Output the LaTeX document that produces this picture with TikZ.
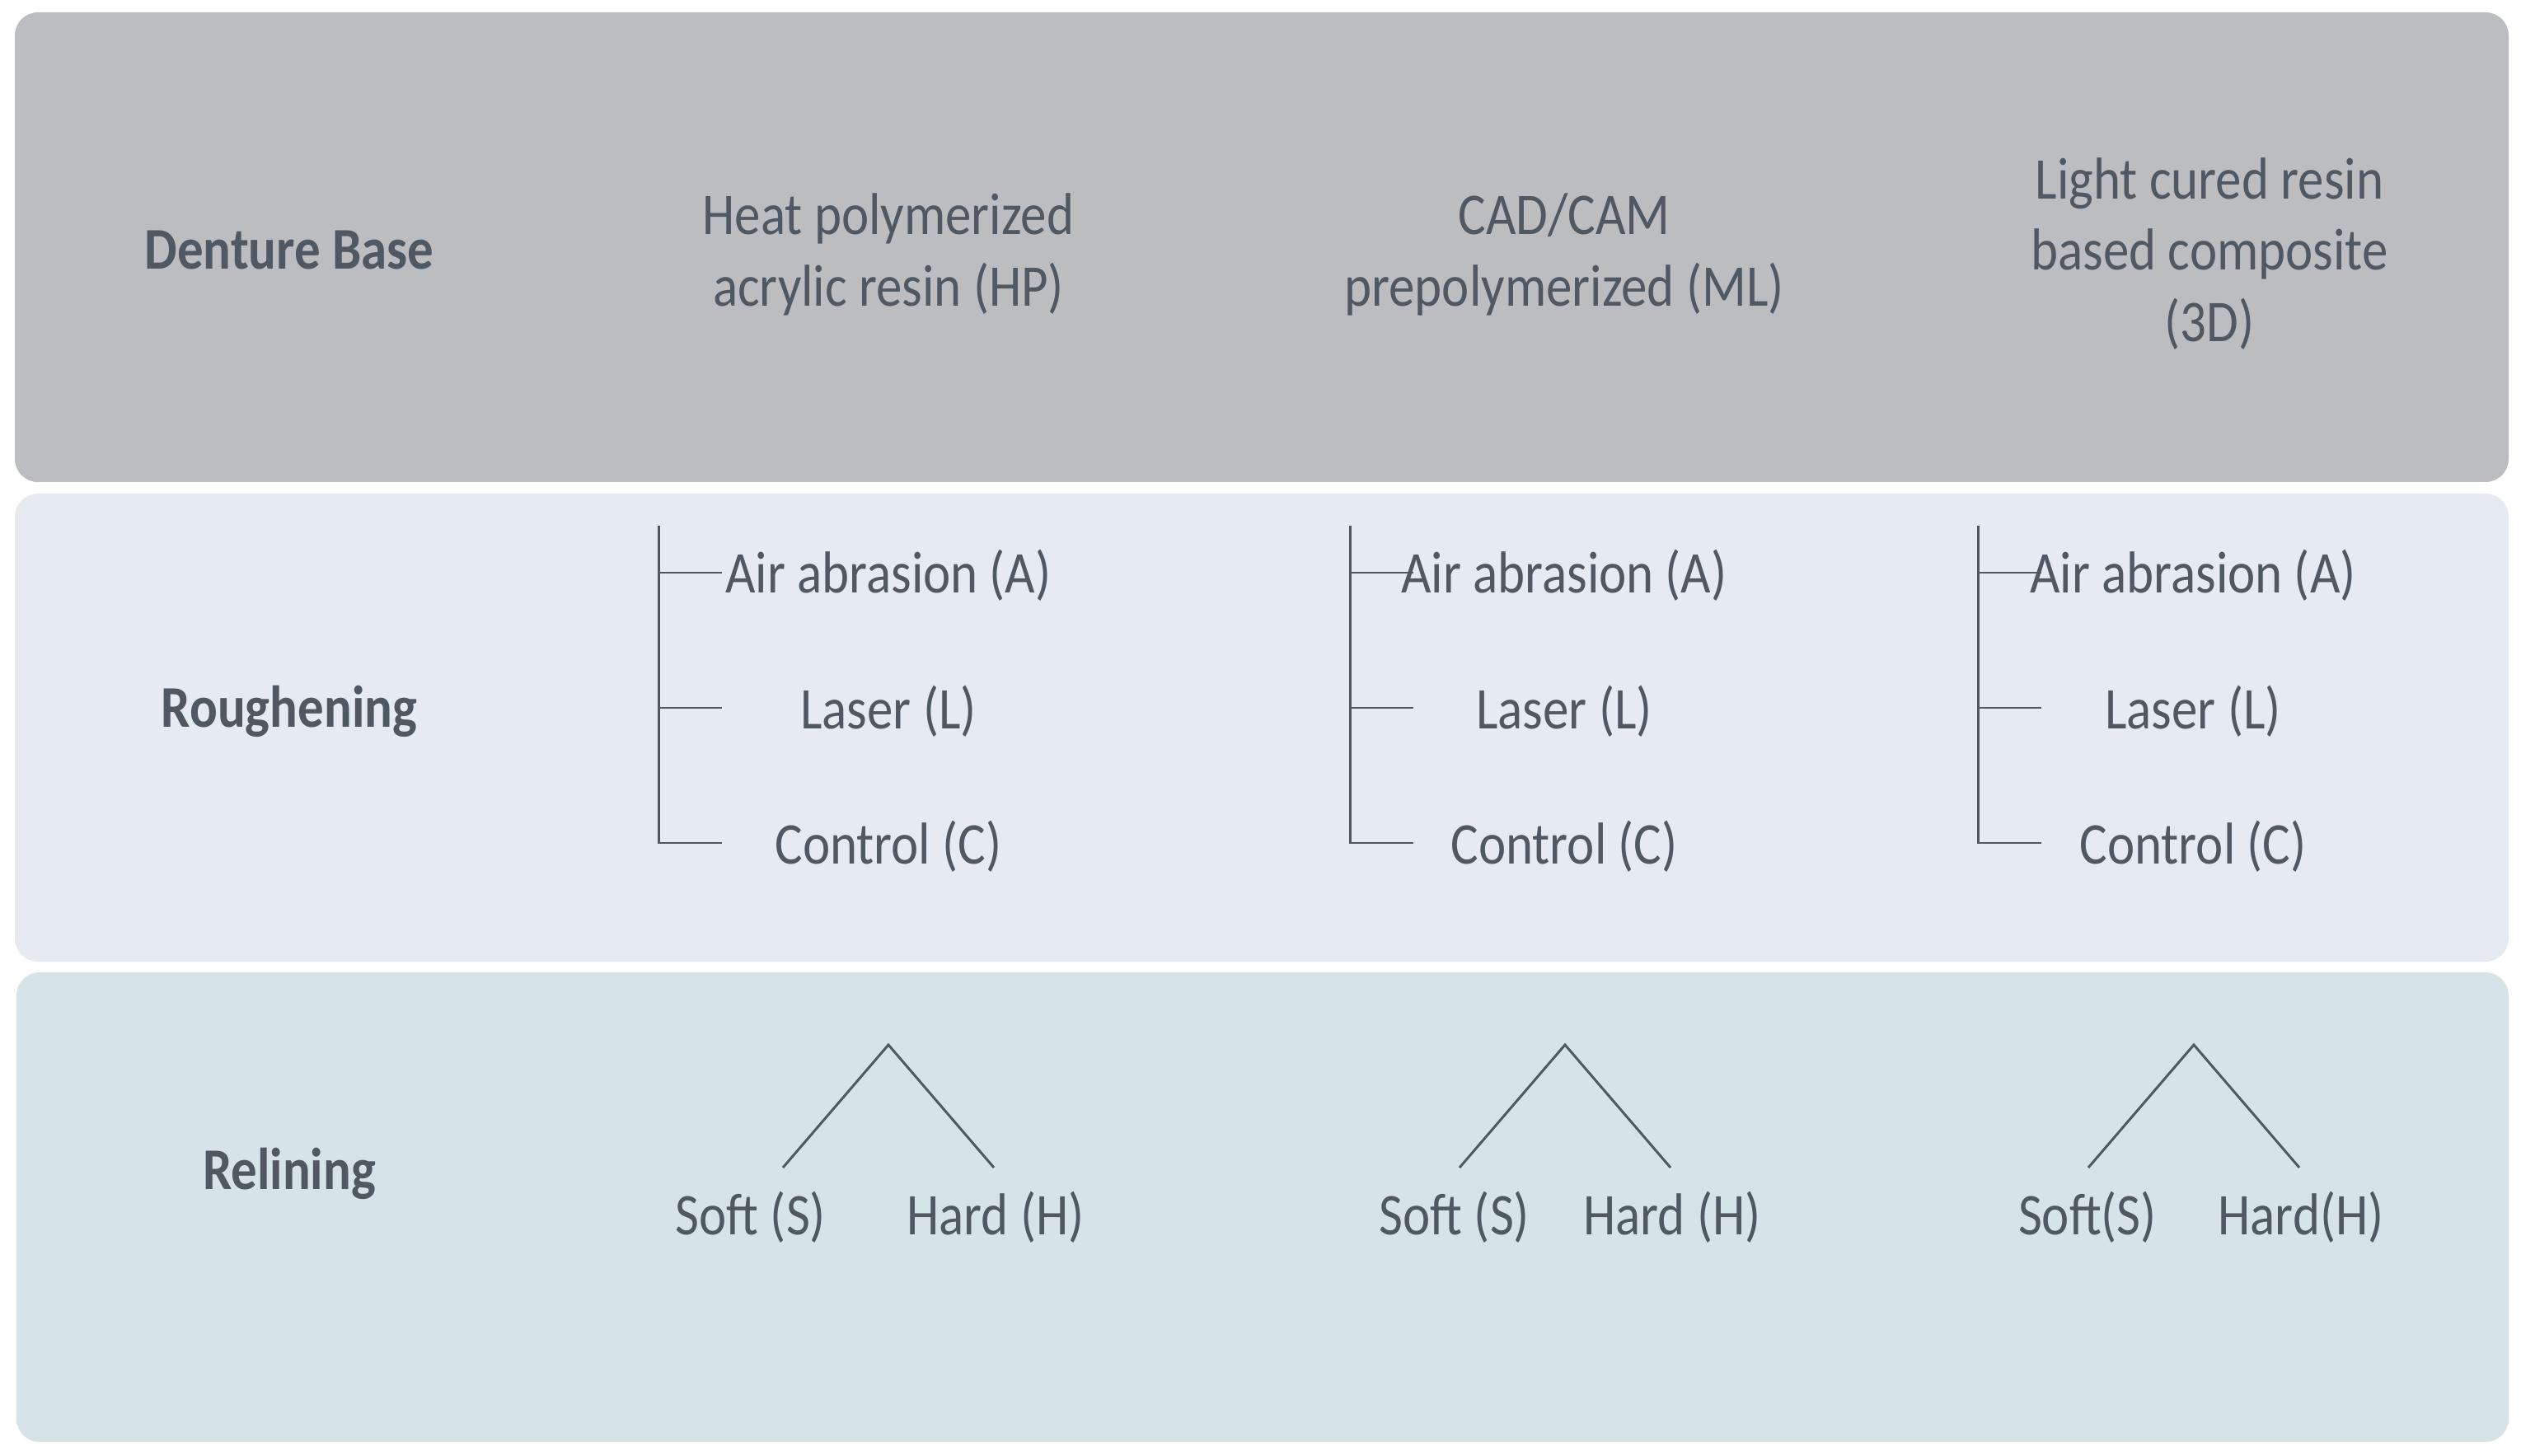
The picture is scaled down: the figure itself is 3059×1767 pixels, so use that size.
\documentclass[tikz,border=0pt]{standalone}
\usepackage{graphicx}
\usepackage{fontspec}
\setmainfont{Carlito}
\definecolor{txt}{RGB}{80,88,98}
\definecolor{bandA}{RGB}{188,189,193}
\definecolor{bandB}{RGB}{230,235,241}
\definecolor{bandC}{RGB}{214,228,232}
\newcommand{\vstr}[1]{\scalebox{1}[1.14]{#1}}
\begin{document}
\begin{tikzpicture}[x=0.01cm,y=-0.01cm,
  band/.style={rounded corners=0.28cm},
  lbl/.style={font=\fontsize{17.9}{24.7}\selectfont, text=txt, inner sep=0pt, anchor=base},
  rowhead/.style={lbl, font=\bfseries\fontsize{17.9}{24.7}\selectfont},
  hdr/.style={lbl, align=center, anchor=center},
  ln/.style={draw=txt, line width=0.85pt}]
\useasboundingbox (0,0) rectangle (3059,1767);
% bands
\fill[bandA, band] (18,15) rectangle (3044,585);
\fill[bandB, band] (18,599) rectangle (3044,1167);
\fill[bandC, band] (20,1180) rectangle (3044,1750);
% row headings
\node[rowhead] (rdb) at (351,327) {\vstr{Denture Base}};
\node[rowhead] (rro) at (351,883) {\vstr{Roughening}};
\node[rowhead] (rre) at (351,1443) {\vstr{Relining}};
% column headings
\node[hdr] (hp) at (1078,309) {\vstr{Heat polymerized}\\\vstr{acrylic resin (HP)}};
\node[hdr] (ml) at (1898,309) {\vstr{CAD/CAM}\\\vstr{prepolymerized (ML)}};
\node[hdr] (td) at (2681,308) {\vstr{Light cured resin}\\\vstr{based composite}\\\vstr{(3D)}};
% roughening brackets
\foreach \i/\x/\c in {1/799/1078, 2/1638/1898, 3/2400/2661}{
  \node[lbl] (air\i) at (\c,719) {\vstr{Air abrasion (A)}};
  \node[lbl] (las\i) at (\c,884) {\vstr{Laser (L)}};
  \node[lbl] (con\i) at (\c,1048) {\vstr{Control (C)}};
  \coordinate (top\i) at (\x,638);
  \coordinate (ta\i) at (\x+77,695);
  \coordinate (tl\i) at (\x+77,859);
  \coordinate (tc\i) at (\x+77,1023);
  \draw[ln] (top\i) |- (tc\i);
  \draw[ln] (top\i |- ta\i) -- (ta\i);
  \draw[ln] (top\i |- tl\i) -- (tl\i);
}
% relining trees
\foreach \i/\c/\sx/\hx/\stxt/\htxt in {1/1078/911/1208/Soft (S)/Hard (H), 2/1899/1765/2029/Soft (S)/Hard (H), 3/2662/2533/2792/Soft(S)/Hard(H)}{
  \coordinate (ap\i) at (\c,1268);
  \coordinate (fs\i) at (\c-128,1417);
  \coordinate (fh\i) at (\c+128,1417);
  \node[lbl] (soft\i) at (\sx,1498) {\vstr{\stxt}};
  \node[lbl] (hard\i) at (\hx,1498) {\vstr{\htxt}};
  \draw[ln] (fs\i) -- (ap\i) -- (fh\i);
}
\end{tikzpicture}
\end{document}
